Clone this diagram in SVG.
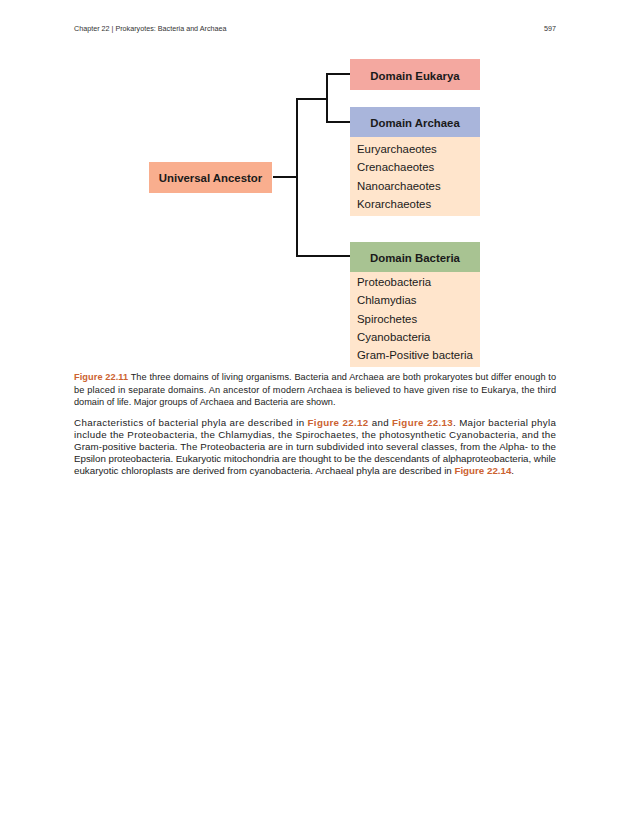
<svg xmlns="http://www.w3.org/2000/svg" width="630" height="815" viewBox="0 0 630 815">
<style>
.hdr{font-family:"Liberation Sans",Arial,sans-serif;font-size:7.2px;fill:#333}
.bold{font-family:"Liberation Sans",Arial,sans-serif;font-size:11.4px;font-weight:bold;fill:#1a1a1a;text-anchor:middle}
.item{font-family:"Liberation Sans",Arial,sans-serif;font-size:11.4px;fill:#1a1a1a}
.cap{font-family:"Liberation Sans",Arial,sans-serif;font-size:9.2px;fill:#222}
.body{font-family:"Liberation Sans",Arial,sans-serif;font-size:9.75px;fill:#222}
.lnk{fill:#cc6230;font-weight:bold}
.list{fill:#ffe5cc}
.conn{fill:none;stroke:#111;stroke-width:2}
</style>
<rect width="630" height="815" fill="#fff"/>
<text class="hdr" x="74" y="31">Chapter 22 | Prokaryotes: Bacteria and Archaea</text>
<text class="hdr" x="556" y="31" text-anchor="end">597</text>
<g id="connectors">
<polyline class="conn" points="273,177 297,177"/>
<polyline class="conn" points="327,99 297,99 297,256 350,256"/>
<polyline class="conn" points="350,74 327,74 327,122 350,122"/>
</g>
<g id="ancestor">
<rect x="149" y="162" width="123" height="31" fill="#f9ae8e"/>
<text class="bold" x="210.5" y="181.5">Universal Ancestor</text>
</g>
<g id="eukarya">
<rect x="350" y="59" width="130" height="31" fill="#f4a8a0"/>
<text class="bold" x="415" y="79.5">Domain Eukarya</text>
</g>
<g id="archaea">
<rect x="350" y="137" width="130" height="79" class="list"/>
<rect x="350" y="107" width="130" height="30" fill="#a9b5db"/>
<text class="bold" x="415" y="126.5">Domain Archaea</text>
<text class="item" x="357" y="153">Euryarchaeotes</text>
<text class="item" x="357" y="171.3">Crenachaeotes</text>
<text class="item" x="357" y="189.6">Nanoarchaeotes</text>
<text class="item" x="357" y="207.9">Korarchaeotes</text>
</g>
<g id="bacteria">
<rect x="350" y="272" width="130" height="95" class="list"/>
<rect x="350" y="242" width="130" height="30" fill="#a8c392"/>
<text class="bold" x="415" y="261.5">Domain Bacteria</text>
<text class="item" x="357" y="286">Proteobacteria</text>
<text class="item" x="357" y="304.3">Chlamydias</text>
<text class="item" x="357" y="322.6">Spirochetes</text>
<text class="item" x="357" y="340.9">Cyanobacteria</text>
<text class="item" x="357" y="359.2">Gram-Positive bacteria</text>
</g>
<g id="caption">
<text class="cap" x="74" y="380" textLength="482" lengthAdjust="spacing"><tspan class="lnk">Figure 22.11</tspan> The three domains of living organisms. Bacteria and Archaea are both prokaryotes but differ enough to</text>
<text class="cap" x="74" y="392.5" textLength="482" lengthAdjust="spacing">be placed in separate domains. An ancestor of modern Archaea is believed to have given rise to Eukarya, the third</text>
<text class="cap" x="74" y="405">domain of life. Major groups of Archaea and Bacteria are shown.</text>
</g>
<g id="paragraph">
<text class="body" x="74" y="426" textLength="482" lengthAdjust="spacing">Characteristics of bacterial phyla are described in <tspan class="lnk">Figure 22.12</tspan> and <tspan class="lnk">Figure 22.13</tspan>. Major bacterial phyla</text>
<text class="body" x="74" y="438" textLength="482" lengthAdjust="spacing">include the Proteobacteria, the Chlamydias, the Spirochaetes, the photosynthetic Cyanobacteria, and the</text>
<text class="body" x="74" y="450" textLength="482" lengthAdjust="spacing">Gram-positive bacteria. The Proteobacteria are in turn subdivided into several classes, from the Alpha- to the</text>
<text class="body" x="74" y="462" textLength="482" lengthAdjust="spacing">Epsilon proteobacteria. Eukaryotic mitochondria are thought to be the descendants of alphaproteobacteria, while</text>
<text class="body" x="74" y="474">eukaryotic chloroplasts are derived from cyanobacteria. Archaeal phyla are described in <tspan class="lnk">Figure 22.14</tspan>.</text>
</g>
</svg>
